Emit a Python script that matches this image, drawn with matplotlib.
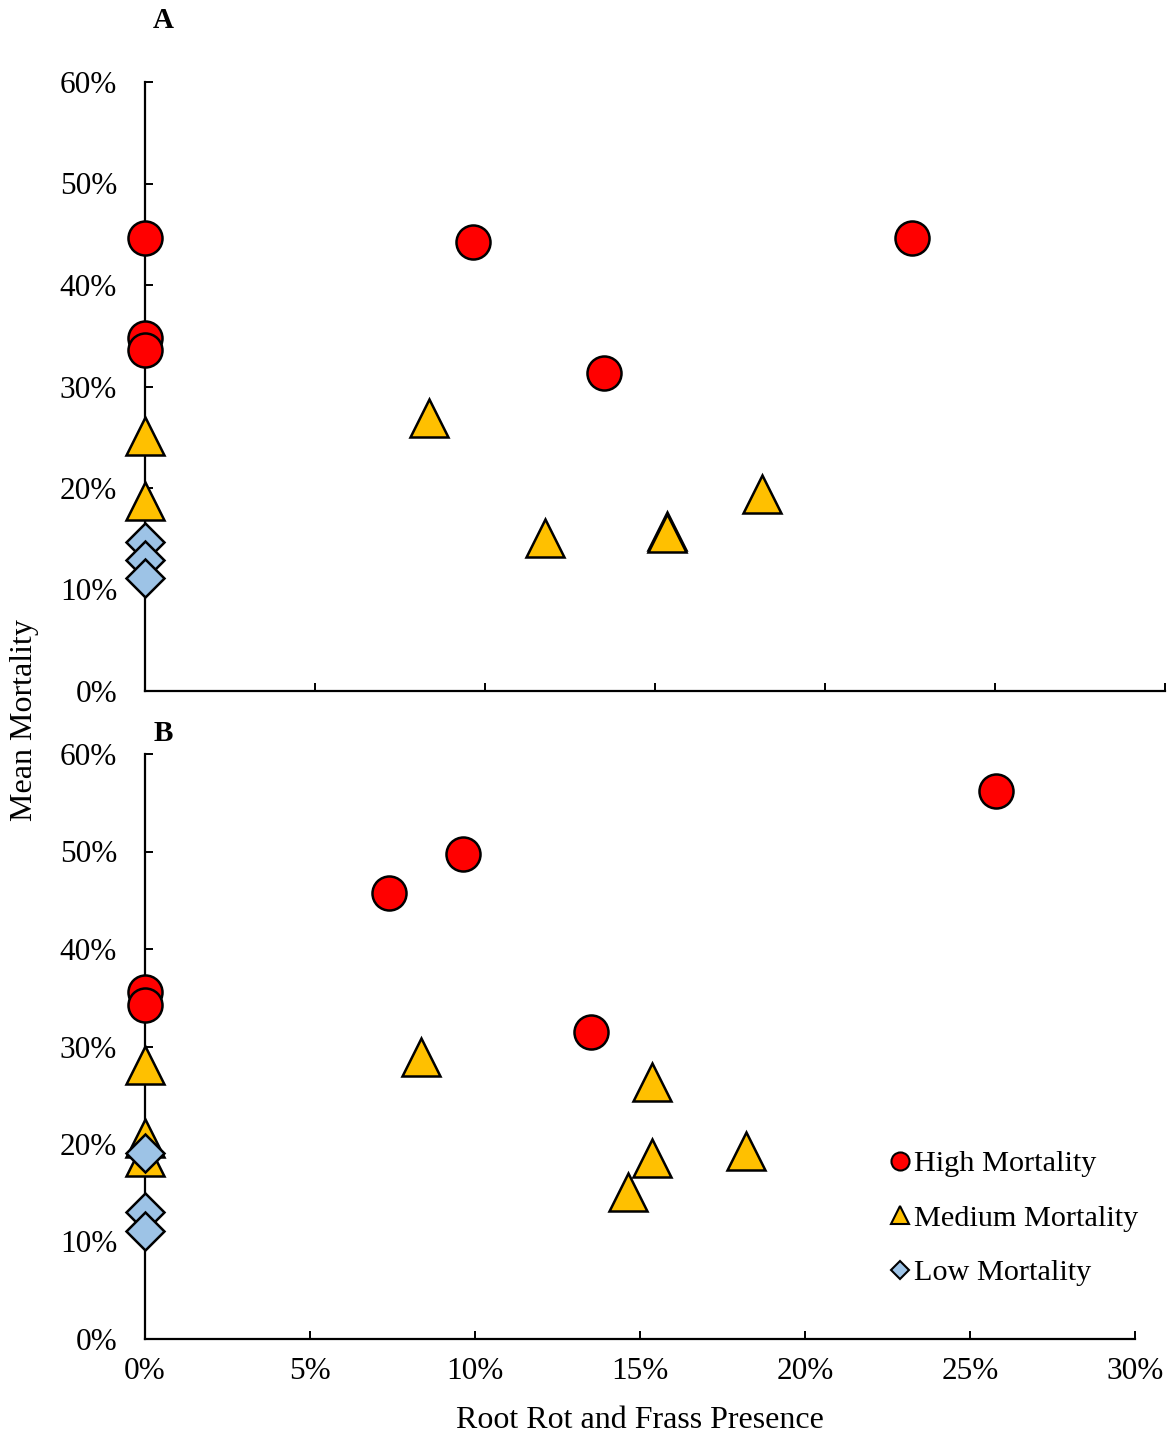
import matplotlib
matplotlib.use("Agg")
import matplotlib.pyplot as plt
from matplotlib.lines import Line2D
from matplotlib.ticker import PercentFormatter, MultipleLocator

plt.rcParams['font.family'] = ['Liberation Serif', 'DejaVu Serif']

# ---- Panel A data (percent) ----
a_high_x = [0.0, 0.0, 0.0, 9.65, 13.5, 22.55]
a_high_y = [44.6, 34.8, 33.6, 44.2, 31.3, 44.6]
a_med_x = [0.0, 0.0, 8.35, 11.75, 15.35, 15.35, 18.15]
a_med_y = [25.1, 18.7, 26.9, 15.1, 15.8, 15.6, 19.4]
a_low_x = [0.0, 0.0, 0.0]
a_low_y = [14.7, 12.9, 11.1]

# ---- Panel B data (percent) ----
b_high_x = [0.0, 0.0, 7.4, 9.65, 13.5, 25.8]
b_high_y = [35.6, 34.3, 45.7, 49.7, 31.5, 56.2]
b_med_x = [0.0, 0.0, 0.0, 8.35, 15.35, 15.35, 14.65, 18.2]
b_med_y = [28.1, 20.6, 18.7, 28.9, 26.4, 18.6, 15.1, 19.3]
b_low_x = [0.0, 0.0, 0.0]
b_low_y = [19.1, 13.0, 11.1]

series_labels = ["High Mortality", "Medium Mortality", "Low Mortality"]
x_label = "Root Rot and Frass Presence"
y_label = "Mean Mortality"

RED = "#FF0000"
GOLD = "#FFC000"
BLUE = "#9DC3E6"
EW = 1.8

fig = plt.figure(figsize=(11.69, 14.38), dpi=100)
axA = fig.add_axes([145/1169, 1-691/1438, (1165-145)/1169, (691-82)/1438])
axB = fig.add_axes([145/1169, 1-1339/1438, (1135-145)/1169, (1339-754)/1438])


def draw(ax, hx, hy, mx, my, lx, ly):
    ax.plot(hx, hy, ls='none', marker='o', ms=24.5, mfc=RED, mec='black', mew=EW, clip_on=False, zorder=3)
    ax.plot(mx, my, ls='none', marker='^', ms=27, mfc=GOLD, mec='black', mew=EW, clip_on=False, zorder=4)
    ax.plot(lx, ly, ls='none', marker='D', ms=19, mfc=BLUE, mec='black', mew=EW, clip_on=False, zorder=5)
    ax.set_xlim(0, 30)
    ax.set_ylim(0, 60)
    ax.xaxis.set_major_locator(MultipleLocator(5))
    ax.yaxis.set_major_locator(MultipleLocator(10))
    ax.xaxis.set_major_formatter(PercentFormatter(decimals=0))
    ax.yaxis.set_major_formatter(PercentFormatter(decimals=0))
    ax.spines['top'].set_visible(False)
    ax.spines['right'].set_visible(False)
    for s in ('left', 'bottom'):
        ax.spines[s].set_linewidth(1.6)
    ax.tick_params(axis='both', direction='in', length=6, width=1.4, labelsize=22.5)
    ax.tick_params(axis='y', pad=20)
    ax.tick_params(axis='x', pad=13)


draw(axA, a_high_x, a_high_y, a_med_x, a_med_y, a_low_x, a_low_y)
draw(axB, b_high_x, b_high_y, b_med_x, b_med_y, b_low_x, b_low_y)
axA.tick_params(axis='x', labelbottom=False)

fig.text(163/1169, 1-20/1438, "A", fontsize=21, fontweight='bold', ha='center', va='center')
fig.text(163/1169, 1-733/1438, "B", fontsize=21, fontweight='bold', ha='center', va='center')
fig.text(25/1169, 1-720/1438, y_label, fontsize=23, rotation=90, ha='center', va='center')
fig.text(640/1169, 1-1421/1438, x_label, fontsize=23, ha='center', va='center')

handles = [
    Line2D([], [], ls='none', marker='o', ms=13, mfc=RED, mec='black', mew=1.5),
    Line2D([], [], ls='none', marker='^', ms=13, mfc=GOLD, mec='black', mew=1.5),
    Line2D([], [], ls='none', marker='D', ms=9.5, mfc=BLUE, mec='black', mew=1.5),
]
axB.legend(handles, series_labels, loc='upper left', bbox_to_anchor=(876/1169, 1-1135/1438),
           bbox_transform=fig.transFigure, frameon=False, fontsize=21.8,
           handlelength=0.6, handletextpad=0.15, labelspacing=0.9, borderpad=0)

fig.savefig("out.png", dpi=100)
